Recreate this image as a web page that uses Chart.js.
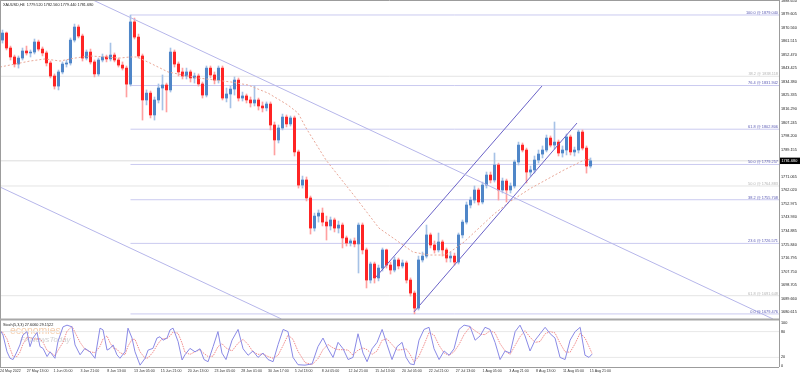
<!DOCTYPE html>
<html><head><meta charset="utf-8">
<script src="https://cdn.jsdelivr.net/npm/chart.js@4"></script>
<style>html,body{margin:0;padding:0;background:#fff;overflow:hidden}canvas{display:block}</style>
</head><body>
<canvas id="c" width="800" height="376"></canvas>
<script>
// ---- data (x in H4-bar units, prices in USD) ----
const firstBar = 1.49, barStep = 2.3877;
const opens = [1862.3,1867.0,1857.0,1851.0,1846.3,1850.3,1855.0,1853.7,1854.3,1861.0,1856.3,1853.7,1847.0,1838.3,1831.6,1841.0,1846.3,1847.0,1862.3,1871.0,1865.0,1850.3,1854.3,1847.7,1839.7,1849.0,1851.0,1849.7,1852.3,1849.0,1845.6,1843.6,1832.9,1874.4,1864.3,1851.7,1822.3,1826.9,1812.3,1822.3,1830.3,1832.3,1829.0,1854.3,1846.3,1841.0,1838.3,1841.0,1837.0,1838.3,1833.0,1825.6,1843.6,1839.0,1835.6,1843.6,1823.6,1826.3,1829.6,1835.6,1823.6,1825.0,1822.3,1820.3,1822.3,1818.3,1817.0,1819.6,1805.6,1795.6,1803.6,1810.9,1806.3,1810.3,1787.6,1765.5,1768.9,1756.9,1736.8,1744.8,1746.8,1740.8,1738.2,1742.2,1736.8,1738.8,1730.2,1726.8,1728.2,1726.2,1738.8,1722.2,1702.1,1712.8,1703.5,1710.1,1722.2,1712.1,1708.8,1715.5,1711.5,1713.5,1702.1,1693.4,1683.4,1715.5,1718.1,1732.2,1725.5,1722.2,1727.5,1722.2,1716.8,1718.1,1714.1,1732.2,1740.8,1752.2,1755.5,1762.2,1754.2,1765.5,1772.2,1768.9,1778.9,1762.2,1768.2,1762.2,1764.9,1780.9,1792.2,1788.9,1774.2,1775.6,1782.2,1786.2,1788.9,1796.9,1792.2,1794.2,1786.9,1788.9,1797.6,1787.6,1788.9,1800.9,1790.2,1778.2];
const highs = [1869.0,1867.7,1858.3,1852.3,1851.7,1857.0,1858.3,1855.7,1863.0,1862.3,1857.7,1855.0,1848.3,1839.7,1842.3,1847.7,1849.0,1863.7,1873.0,1872.4,1866.3,1855.7,1856.3,1849.0,1850.3,1853.0,1852.3,1860.3,1853.7,1850.3,1847.7,1845.0,1879.0,1877.0,1866.3,1853.0,1829.0,1828.3,1824.3,1833.0,1839.0,1833.6,1857.0,1855.7,1847.7,1843.6,1843.6,1842.3,1840.3,1839.7,1834.3,1845.0,1845.0,1841.0,1845.0,1845.0,1830.3,1831.6,1837.7,1837.0,1827.6,1826.3,1824.3,1831.6,1823.6,1821.0,1821.0,1821.0,1807.6,1805.6,1812.9,1812.3,1811.6,1811.6,1788.9,1771.5,1770.9,1758.2,1746.8,1748.9,1750.2,1744.8,1744.2,1743.5,1741.5,1740.2,1731.5,1729.5,1730.2,1740.2,1740.2,1723.5,1714.1,1714.1,1712.1,1723.5,1722.8,1714.1,1717.5,1716.8,1715.5,1714.8,1703.5,1694.8,1718.1,1720.8,1738.8,1733.5,1728.2,1733.5,1728.8,1723.5,1720.8,1720.1,1733.5,1742.2,1754.2,1757.5,1764.9,1763.5,1767.5,1774.2,1774.2,1786.9,1780.2,1770.2,1769.5,1766.9,1782.2,1794.2,1793.6,1790.2,1778.2,1784.9,1788.9,1791.6,1798.9,1798.3,1807.6,1795.6,1791.6,1799.6,1798.9,1790.9,1802.3,1802.3,1791.6,1783.6];
const lows = [1860.3,1855.7,1849.0,1844.3,1843.6,1849.0,1852.3,1851.0,1853.0,1855.0,1851.7,1845.0,1837.0,1829.6,1829.0,1839.7,1844.3,1845.6,1861.0,1863.7,1848.3,1849.0,1846.3,1837.7,1838.3,1847.7,1847.7,1848.3,1847.7,1844.3,1842.3,1824.3,1831.6,1863.0,1850.3,1808.9,1819.0,1810.3,1808.9,1820.3,1815.6,1814.3,1827.6,1844.3,1838.3,1836.3,1836.3,1834.3,1833.6,1831.6,1823.6,1824.3,1837.0,1833.0,1833.6,1822.3,1821.0,1817.0,1825.6,1821.6,1821.6,1820.3,1817.6,1818.3,1815.6,1814.3,1815.0,1802.3,1785.6,1793.6,1802.3,1804.3,1804.9,1784.9,1763.5,1763.5,1754.9,1732.8,1734.8,1740.8,1738.2,1728.8,1735.5,1734.2,1733.5,1723.5,1724.8,1724.8,1724.2,1706.8,1719.5,1696.8,1700.1,1700.1,1701.5,1708.1,1710.1,1706.1,1707.5,1709.5,1710.1,1700.1,1691.4,1679.5,1682.1,1714.1,1716.8,1723.5,1720.1,1720.8,1718.1,1714.1,1714.1,1712.1,1712.8,1730.2,1739.5,1750.2,1753.5,1752.2,1752.9,1763.5,1766.9,1767.5,1755.5,1760.2,1754.2,1760.2,1763.5,1778.9,1787.6,1766.9,1771.5,1773.5,1780.2,1783.6,1787.6,1790.9,1789.6,1784.9,1784.2,1785.6,1785.6,1784.9,1786.9,1788.9,1773.5,1776.9];
const closes = [1867.0,1857.0,1851.0,1846.3,1850.3,1855.0,1853.7,1854.3,1861.0,1856.3,1853.7,1847.0,1838.3,1831.6,1841.0,1846.3,1847.0,1862.3,1871.0,1865.0,1850.3,1854.3,1847.7,1839.7,1849.0,1851.0,1849.7,1852.3,1849.0,1845.6,1843.6,1832.9,1874.4,1864.3,1851.7,1822.3,1826.9,1812.3,1822.3,1830.3,1832.3,1829.0,1854.3,1846.3,1841.0,1838.3,1841.0,1837.0,1838.3,1833.0,1825.6,1843.6,1839.0,1835.6,1843.6,1823.6,1826.3,1829.6,1835.6,1823.6,1825.0,1822.3,1820.3,1822.3,1818.3,1817.0,1819.6,1805.6,1795.6,1803.6,1810.9,1806.3,1810.3,1787.6,1765.5,1768.9,1756.9,1736.8,1744.8,1746.8,1740.8,1738.2,1742.2,1736.8,1738.8,1730.2,1726.8,1728.2,1726.2,1738.8,1722.2,1702.1,1712.8,1703.5,1710.1,1722.2,1712.1,1708.8,1715.5,1711.5,1713.5,1702.1,1693.4,1683.4,1715.5,1718.1,1732.2,1725.5,1722.2,1727.5,1722.2,1716.8,1718.1,1714.1,1732.2,1740.8,1752.2,1755.5,1762.2,1754.2,1765.5,1772.2,1768.9,1778.9,1762.2,1768.2,1762.2,1764.9,1780.9,1792.2,1788.9,1774.2,1775.6,1782.2,1786.2,1788.9,1796.9,1792.2,1794.2,1786.9,1788.9,1797.6,1787.6,1788.9,1800.9,1790.2,1778.2,1781.68];

const maBars = [0,9.0,17.9,26.9,35.8,44.8,53.7,62.7,71.6,77.6,81.8,89.5,100.3,118.2,137.9,148.0,160.0,171.9,177.9,182.7,194.6,212.5,226.2,236.4,246.5,256.1,266.2,277.0,294.9,305.0,317.0,324.7,336.7,348.6,353.4];
const maValues = [1844.3,1846.3,1848.3,1849.7,1848.3,1850.3,1851.7,1851.0,1850.3,1851.0,1851.0,1847.0,1841.0,1837.0,1834.3,1832.3,1826.9,1818.9,1813.6,1803.6,1782.2,1756.9,1736.8,1728.8,1720.8,1718.8,1718.8,1727.5,1746.2,1754.9,1763.5,1768.2,1775.6,1782.2,1782.9];

const stochBars = [0,1.8,4.2,6.0,7.8,10.1,11.9,13.7,16.1,17.9,19.7,22.1,23.9,25.7,28.1,29.9,32.8,34.6,37.6,40.0,43.0,44.8,47.8,50.7,53.7,56.7,59.7,61.5,63.9,65.7,67.5,69.8,71.6,74.6,76.4,78.8,80.6,83.6,86.6,88.4,91.3,93.7,95.5,97.3,99.7,101.5,103.3,106.3,108.7,110.4,113.4,116.4,119.4,121.8,124.2,127.2,130.1,132.5,134.9,138.5,142.1,145.1,148.1,151.0,154.0,157.0,160.0,163.0,166.0,169.0,171.9,174.9,177.9,182.1,186.3,189.8,192.8,195.8,198.8,201.8,204.8,207.8,210.7,213.7,216.7,219.1,222.1,225.1,228.1,231.0,234.0,237.0,240.0,242.4,244.8,247.2,250.1,253.1,256.1,259.1,262.1,265.1,268.1,271.0,274.0,277.0,280.6,283.6,286.6,289.5,292.5,295.5,298.5,301.5,304.5,307.5,310.4,313.4,316.4,319.4,322.4,325.4,328.4,331.3,334.3,337.3,340.3,343.3,346.3,349.2,351.6,353.4];
const stochMain = [84,72,33,18,15,33,49,72,80,45,65,78,45,41,22,33,18,57,91,95,91,49,26,41,33,18,88,84,37,41,49,26,18,33,88,65,33,2,18,37,41,65,68,60,65,84,88,57,14,26,41,33,40,15,10,45,80,30,15,60,85,40,25,35,20,30,15,10,50,85,80,20,3,2,5,45,65,40,20,55,40,15,20,75,30,10,40,55,85,50,15,45,55,20,5,3,60,85,90,40,15,35,25,40,85,95,92,60,70,90,85,55,15,35,30,80,95,70,35,60,75,90,75,65,20,15,60,80,90,25,20,27.6];
const stochSignal = [80,78,63,41,22,22,32,51,67,66,63,63,63,55,36,32,24,36,55,81,92,78,55,39,33,31,46,63,70,54,42,39,31,26,46,62,62,33,18,19,32,48,58,64,64,70,79,76,53,32,27,33,38,29,22,23,45,52,42,35,53,62,50,33,27,28,22,18,25,48,72,62,34,8,3,17,38,50,42,38,38,37,25,37,42,38,27,35,60,63,50,37,38,40,27,9,23,49,78,72,48,30,25,33,50,73,91,82,74,73,82,77,52,35,27,48,68,82,67,55,57,75,80,77,53,33,32,52,77,65,45,29.2];

const fibPct = ['0.0','23.6','38.2','50.0','61.8','76.4','100.0'];
const fibPrice = [1679.476,1726.571,1755.708,1779.257,1802.806,1831.942,1879.040];
const greyFibPct = ['38.2','50.0','61.8'];
const greyFibPrice = [1838.118,1764.883,1691.648];

const trendDown = [[55.5,1889.05],[461.4,1676.1]];
const trendDown2 = [[0,1764.2],[168.0,1676.1]];
const channelUpper = [[224.4,1704.1],[323.5,1831.6]];
const channelLower = [[247.1,1680.8],[344.4,1806.9]];

const xTickLabels = ['24 May 2022','27 May 13:00','1 Jun 05:00','3 Jun 21:00','8 Jun 13:00','13 Jun 05:00','15 Jun 21:00','20 Jun 13:00','23 Jun 05:00','28 Jun 01:00','30 Jun 17:00','5 Jul 13:00','8 Jul 05:00','12 Jul 21:00','15 Jul 13:00','20 Jul 05:00','22 Jul 21:00','27 Jul 13:00','1 Aug 05:00','3 Aug 21:00','8 Aug 13:00','11 Aug 05:00','15 Aug 21:00'];
const xTickBars = xTickLabels.map((_, i) => i * 16);
const priceTickLabels = ['1888.650','1879.605','1870.560','1861.515','1852.470','1843.425','1834.380','1825.335','1816.290','1807.245','1798.200','1789.155','1771.065','1762.020','1752.975','1743.930','1734.885','1725.840','1716.795','1707.750','1698.705','1689.660','1680.615'];
const stochTickValues = [100, 80, 20, 0];

const header = 'XAUUSD,H4  1779.520 1782.560 1779.440 1781.680';
const stochHeader = 'Stoch(5,3,3) 27.6060 29.1522';

// ---- build ----
const FONT = '"Liberation Sans", Arial, sans-serif';
const X_MAX = 465;
const n = Math.min(opens.length, highs.length, lows.length, closes.length);
const candleX = Array.from({length: n}, (_, i) => firstBar + i * barStep);
const up = i => closes[i] >= opens[i];
const seg = (arr) => arr.map(p => ({x: p[0], y: p[1]}));
const lineDs = (data, color, extra) => Object.assign({type: 'line', data, borderColor: color, borderWidth: 1, pointRadius: 0, tension: 0, fill: false, yAxisID: 'y', order: 0}, extra || {});

const fibStart = candleX[32];
const datasets = [];
greyFibPrice.forEach(p => datasets.push(lineDs([{x: 0, y: p}, {x: X_MAX, y: p}], '#e4e4e4', {order: 5})));
datasets.push(lineDs([{x: 0, y: closes[n - 1]}, {x: X_MAX, y: closes[n - 1]}], '#dcdcdc', {order: 5}));
fibPrice.forEach(p => datasets.push(lineDs([{x: fibStart, y: p}, {x: X_MAX, y: p}], '#cacaf0', {order: 5})));
datasets.push({type: 'bar', data: candleX.map((x, i) => ({x, y: [lows[i], highs[i]]})), backgroundColor: candleX.map((_, i) => up(i) ? '#a6c2e6' : '#ffa0a0'), barThickness: 1, grouped: false, borderWidth: 0, yAxisID: 'y', order: 3});
datasets.push({type: 'bar', data: candleX.map((x, i) => ({x, y: [opens[i], closes[i]]})), backgroundColor: candleX.map((_, i) => up(i) ? '#4f86c8' : '#ff2424'), barThickness: 2.4, grouped: false, borderWidth: 0, yAxisID: 'y', order: 2});
datasets.push(lineDs(maBars.map((x, i) => ({x, y: maValues[i]})), '#e9a898', {borderDash: [2, 2], order: 1}));
datasets.push(lineDs(seg(trendDown), '#b6b6ea'));
datasets.push(lineDs(seg(trendDown2), '#b6b6ea'));
datasets.push(lineDs(seg(channelUpper), '#6a62c8'));
datasets.push(lineDs(seg(channelLower), '#6a62c8'));
[80, 20].forEach(v => datasets.push(lineDs([{x: 0, y: v}, {x: X_MAX, y: v}], '#e8e8e8', {yAxisID: 'y2', order: 5})));
datasets.push(lineDs(stochBars.map((x, i) => ({x, y: stochSignal[i]})), '#f28c8c', {yAxisID: 'y2', borderDash: [1.5, 1], order: 1}));
datasets.push(lineDs(stochBars.map((x, i) => ({x, y: stochMain[i]})), '#8a8ae6', {yAxisID: 'y2', order: 0}));

const tickFont = {family: FONT, size: 3.8};
const noGrid = {display: false, drawTicks: false, tickLength: 0};
const decor = {
  id: 'decor',
  beforeDraw(chart) {
    const c = chart.ctx; c.save(); c.fillStyle = '#fff'; c.fillRect(0, 0, chart.width, chart.height); c.restore();
  },
  beforeDatasetsDraw(chart) {
    const c = chart.ctx, y2 = chart.scales.y2;
    c.save();
    c.textBaseline = 'alphabetic';
    c.fillStyle = '#f6cfae'; c.font = '10.5px ' + FONT; c.fillText('economies', 10, y2.top + 15);
    c.fillStyle = '#d2d2d2'; c.font = 'italic 7.8px ' + FONT; c.fillText('FXNewsToday', 20, y2.top + 23);
    c.restore();
  },
  afterDraw(chart) {
    const c = chart.ctx, a = chart.chartArea, y = chart.scales.y, y2 = chart.scales.y2;
    c.save();
    // frame
    c.strokeStyle = '#9c9c9c'; c.lineWidth = 1;
    c.beginPath();
    c.moveTo(a.right + 0.5, 0); c.lineTo(a.right + 0.5, y2.bottom);
    c.moveTo(0, 0.5); c.lineTo(a.right, 0.5);
    c.moveTo(0, y2.bottom + 0.5); c.lineTo(a.right, y2.bottom + 0.5);
    c.moveTo(0.5, 0); c.lineTo(0.5, y2.bottom);
    c.stroke();
    c.lineWidth = 2; c.strokeStyle = '#a8a8a8';
    c.beginPath(); c.moveTo(0, y.bottom + 0.5); c.lineTo(a.right, y.bottom + 0.5); c.stroke();
    // fib labels
    c.font = '3.9px ' + FONT; c.textAlign = 'right'; c.textBaseline = 'bottom';
    c.fillStyle = '#5a5ab4';
    fibPrice.forEach((p, i) => c.fillText(fibPct[i] + ' @ ' + p.toFixed(3), a.right - 1, y.getPixelForValue(p) - 0.3));
    c.fillStyle = '#b4b4b4';
    greyFibPrice.forEach((p, i) => c.fillText(greyFibPct[i] + ' @ ' + p.toFixed(3), a.right - 1, y.getPixelForValue(p) - 0.3));
    // price box
    const py = y.getPixelForValue(closes[n - 1]);
    c.fillStyle = '#000'; c.fillRect(a.right + 1, py - 3.2, chart.width - a.right - 1, 6.4);
    c.fillStyle = '#fff'; c.textAlign = 'left'; c.textBaseline = 'middle'; c.font = '3.8px ' + FONT;
    c.fillText(closes[n - 1].toFixed(3), a.right + 2.5, py + 0.2);
    // headers
    c.fillStyle = '#222'; c.textBaseline = 'middle';
    c.fillText(header, 3, 5);
    c.fillText(stochHeader, 3, y2.top + 6);
    c.restore();
  }
};

new Chart(document.getElementById('c'), {
  type: 'bar',
  data: {datasets},
  options: {
    responsive: false, animation: false, devicePixelRatio: 1,
    layout: {padding: 0},
    plugins: {legend: {display: false}, tooltip: {enabled: false}},
    scales: {
      x: {type: 'linear', min: 0, max: X_MAX, offset: false,
        grid: noGrid, border: {display: false},
        afterBuildTicks: s => { s.ticks = xTickBars.map(v => ({value: v})); },
        afterFit: s => { s.height = 9; s.paddingLeft = 0; s.paddingRight = 0; },
        ticks: {autoSkip: false, maxRotation: 0, minRotation: 0, align: 'start', padding: 2, color: '#333', font: {family: FONT, size: 3.6},
          callback: (v, i) => xTickLabels[i]}},
      y: {type: 'linear', position: 'right', stack: 'panes', stackWeight: 319, min: 1676.09, max: 1889.05,
        grid: noGrid, border: {display: false},
        afterBuildTicks: s => { s.ticks = priceTickLabels.map(t => ({value: parseFloat(t)})); },
        afterFit: s => { s.width = 21; s.paddingTop = 0; s.paddingBottom = 0; },
        ticks: {autoSkip: false, padding: 2, color: '#222', font: tickFont, callback: (v, i) => priceTickLabels[i]}},
      y2: {type: 'linear', position: 'right', stack: 'panes', stackWeight: 48, min: -2.3, max: 109.3,
        grid: noGrid, border: {display: false},
        afterBuildTicks: s => { s.ticks = stochTickValues.map(v => ({value: v})); },
        afterFit: s => { s.width = 21; s.paddingTop = 0; s.paddingBottom = 0; },
        ticks: {autoSkip: false, padding: 2, color: '#222', font: tickFont, callback: (v, i) => String(stochTickValues[i])}}
    }
  },
  plugins: [decor]
});
</script>
</body></html>
